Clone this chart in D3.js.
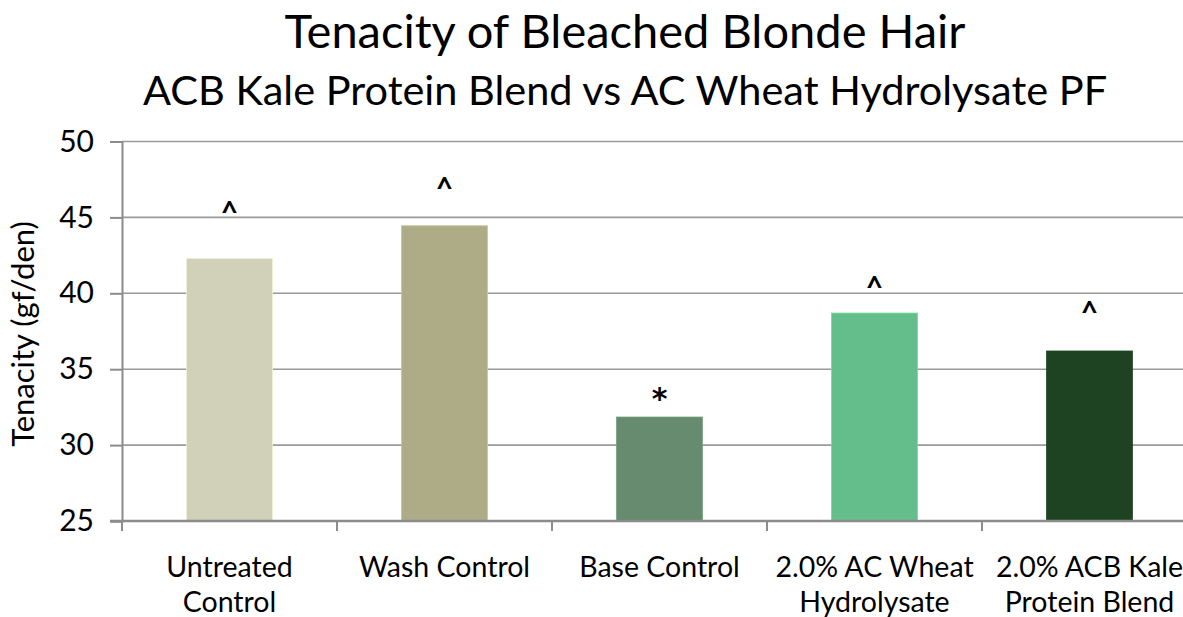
<!DOCTYPE html>
<html>
<head>
<meta charset="utf-8">
<script src="https://cdn.jsdelivr.net/npm/d3@7"></script>
<style>
  body { margin: 0; background: #fff; }
  text { font-family: Lato, "Open Sans", sans-serif; fill: #000; }
</style>
</head>
<body>
<div id="chart"></div>
<script>
// chart data
var categories = ["Untreated Control", "Wash Control", "Base Control", "2.0% AC Wheat Hydrolysate", "2.0% ACB Kale Protein Blend"];
var labelLines = [["Untreated", "Control"], ["Wash Control"], ["Base Control"], ["2.0% AC Wheat", "Hydrolysate"], ["2.0% ACB Kale", "Protein Blend"]];
var tenacity = [42.3, 44.45, 31.85, 38.7, 36.2];
var marks = ["^", "^", "*", "^", "^"];
var markAt = [45.6, 47.2, 33.5, 40.7, 39.0];   // value where the significance mark sits
var barColors = ["#d1d1ba", "#aeac87", "#678b6e", "#64be8b", "#1e4322"];
var yTicks = [25, 30, 35, 40, 45, 50];

var W = 1183, H = 617;
var plotLeft = 122, plotRight = 1197, plotTop = 141.5, plotBottom = 521;

var svg = d3.select("#chart")
  .append("svg")
    .attr("width", W)
    .attr("height", H);

var x = d3.scaleBand()
    .domain(categories)
    .range([plotLeft, plotRight])
    .paddingInner(0.6)
    .paddingOuter(0.3);

var y = d3.scaleLinear()
    .domain([25, 50])
    .range([plotBottom, plotTop]);

// gridlines behind bars
svg.selectAll(".grid")
    .data(yTicks.slice(1))
  .enter()
    .append("line")
    .attr("x1", plotLeft)
    .attr("x2", W)
    .attr("y1", function(d) { return y(d); })
    .attr("y2", function(d) { return y(d); })
    .attr("stroke", "#9a9a9a")
    .attr("stroke-width", 1.6);

// bars
svg.selectAll(".bar")
    .data(tenacity)
  .enter()
    .append("rect")
    .attr("x", function(d, i) { return x(categories[i]); })
    .attr("y", function(d) { return y(d); })
    .attr("width", x.bandwidth())
    .attr("height", function(d) { return y(25) - y(d); })
    .attr("fill", function(d, i) { return barColors[i]; })
    .attr("stroke", function(d, i) { return d3.color(barColors[i]).brighter(0.4); })
    .attr("stroke-width", 0.8);

// y axis
var yAxis = d3.axisLeft(y)
    .tickValues(yTicks)
    .tickSize(12)
    .tickPadding(16);

var gy = svg.append("g")
    .attr("transform", "translate(" + plotLeft + ",0)")
    .call(yAxis);
gy.select(".domain").attr("stroke", "#8c8c8c").attr("stroke-width", 2);
gy.selectAll(".tick line").attr("stroke", "#8c8c8c").attr("stroke-width", 2);
gy.selectAll(".tick text")
    .style("font-family", "Lato, sans-serif")
    .attr("font-size", 30)
    .attr("fill", "#000");

// x axis line and category boundary ticks
svg.append("line")
    .attr("x1", plotLeft - 12)
    .attr("x2", W)
    .attr("y1", plotBottom)
    .attr("y2", plotBottom)
    .attr("stroke", "#8c8c8c")
    .attr("stroke-width", 2.4);

var step = x.step();
svg.selectAll(".xtick")
    .data(categories)
  .enter()
    .append("line")
    .attr("x1", function(d) { return x(d) - step * 0.3; })
    .attr("x2", function(d) { return x(d) - step * 0.3; })
    .attr("y1", plotBottom)
    .attr("y2", plotBottom + 10)
    .attr("stroke", "#8c8c8c")
    .attr("stroke-width", 2);

// category labels
var catText = svg.selectAll(".cat")
    .data(labelLines)
  .enter()
    .append("text")
    .attr("text-anchor", "middle")
    .attr("font-size", 28.5)
    .attr("x", function(d, i) { return x(categories[i]) + x.bandwidth() / 2; })
    .attr("y", 577);
catText.selectAll("tspan")
    .data(function(d) { return d; })
  .enter()
    .append("tspan")
    .attr("x", function() { return d3.select(this.parentNode).attr("x"); })
    .attr("dy", function(d, j) { return j === 0 ? 0 : 35; })
    .text(function(d) { return d; });

// significance marks (asterisk drawn in DejaVu, Lato's is too small)
svg.selectAll(".mark")
    .data(marks)
  .enter()
    .append("text")
    .attr("text-anchor", "middle")
    .attr("font-weight", "bold")
    .attr("font-size", function(d) { return d === "*" ? 30 : 30; })
    .style("font-family", function(d) { return d === "*" ? "'DejaVu Sans', sans-serif" : "Lato, sans-serif"; })
    .attr("x", function(d, i) { return x(categories[i]) + x.bandwidth() / 2; })
    .attr("y", function(d, i) { return y(markAt[i]) + (d === "*" ? 17 : 15); })
    .text(function(d) { return d; });

// y axis title
svg.append("text")
    .attr("text-anchor", "middle")
    .attr("font-size", 31)
    .attr("transform", "translate(34,334) rotate(-90)")
    .text("Tenacity (gf/den)");

// titles
svg.append("text")
    .attr("text-anchor", "middle")
    .attr("x", 625)
    .attr("y", 48)
    .attr("font-size", 47)
    .text("Tenacity of Bleached Blonde Hair");

svg.append("text")
    .attr("text-anchor", "middle")
    .attr("x", 625)
    .attr("y", 105)
    .attr("font-size", 41.5)
    .text("ACB Kale Protein Blend vs AC Wheat Hydrolysate PF");
</script>
</body>
</html>
